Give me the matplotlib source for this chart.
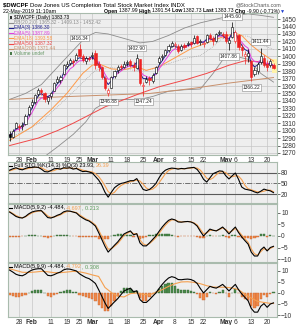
import matplotlib
matplotlib.use("Agg")
import matplotlib.pyplot as plt
import pandas as pd
from matplotlib.patches import Rectangle
from matplotlib.lines import Line2D

plt.rcParams['font.family'] = ['Liberation Sans', 'DejaVu Sans']

# trading days on the chart (Presidents Day and Good Friday closed)
days = [d for d in pd.bdate_range('2019-01-23', '2019-05-22')
        if d.strftime('%m-%d') not in ('02-18', '04-19')]
day_pos = {d.strftime('%Y-%m-%d'): i for i, d in enumerate(days)}

tick_dates = ['2019-01-28', '2019-02-01', '2019-02-11', '2019-02-19', '2019-02-25',
              '2019-03-01', '2019-03-11', '2019-03-18', '2019-03-25', '2019-04-01',
              '2019-04-08', '2019-04-15', '2019-04-22', '2019-05-01', '2019-05-06',
              '2019-05-13', '2019-05-20']
tick_labels = ['28', 'Feb', '11', '19', '25', 'Mar', '11', '18', '25', 'Apr',
               '8', '15', '22', 'May', '6', '13', '20']

opens = [1296, 1292, 1304, 1306, 1306, 1309, 1322, 1335, 1338, 1349,
         1355, 1350, 1340, 1346, 1354, 1366, 1368, 1376, 1387, 1391,
         1394, 1395, 1410, 1400, 1393, 1398, 1400, 1405, 1390, 1385,
         1371, 1350, 1358, 1373, 1381, 1387, 1386, 1391, 1393, 1388,
         1384, 1396, 1360, 1366, 1371, 1367, 1378, 1392, 1399, 1402,
         1408, 1414, 1415, 1414, 1408, 1415, 1416, 1419, 1418, 1427,
         1419, 1417, 1419, 1428, 1425, 1421, 1431, 1430, 1430, 1418,
         1426, 1420, 1428, 1412, 1400, 1401, 1393, 1376, 1380, 1392,
         1398, 1390, 1388, 1387.99]
highs = [1299, 1302, 1312, 1309, 1312, 1322, 1334, 1342, 1349, 1357,
         1358, 1352, 1347, 1352, 1366, 1373, 1375, 1390, 1393, 1398,
         1397, 1404, 1416.34, 1403, 1400, 1401, 1406, 1408, 1393, 1387,
         1373, 1358, 1373, 1382, 1388, 1390, 1393, 1395, 1396, 1392,
         1402.90, 1397, 1366, 1373, 1374, 1377, 1387, 1400, 1403, 1410,
         1416, 1420, 1419, 1416, 1416, 1418, 1421, 1421, 1428, 1429,
         1423, 1421, 1430, 1431, 1427, 1431, 1436, 1433, 1434, 1425,
         1445.60, 1436, 1430, 1416, 1407, 1410, 1395, 1386, 1392, 1411.44,
         1402, 1395, 1396, 1391.54]
lows = [1286, 1290, 1302, 1299, 1301, 1307, 1320, 1331, 1336, 1347,
        1348, 1338, 1336, 1343, 1353, 1364, 1364, 1375, 1384, 1388,
        1387, 1394, 1398, 1392, 1390, 1393, 1396, 1383, 1380, 1370,
        1355, 1346.88, 1357, 1371, 1378, 1381, 1384, 1387, 1385, 1380,
        1383, 1362, 1347.24, 1364, 1362, 1364, 1376, 1390, 1395, 1400,
        1406, 1412, 1411, 1405, 1407, 1410, 1414, 1413, 1417, 1416,
        1415, 1413, 1418, 1422, 1415, 1419, 1428, 1424, 1418, 1407.86,
        1425, 1418, 1408, 1400, 1390, 1392, 1366.22, 1374, 1376, 1390,
        1385, 1380, 1386, 1382.73]
closes = [1292, 1300, 1310, 1305, 1308, 1320, 1332, 1338, 1348, 1355,
          1352, 1343, 1345, 1350, 1364, 1370, 1372, 1388, 1390, 1395,
          1392, 1402, 1400, 1395, 1398, 1397, 1402, 1388, 1385, 1372,
          1358, 1355, 1372, 1380, 1386, 1385, 1390, 1392, 1388, 1385,
          1398, 1364, 1362, 1370, 1368, 1375, 1385, 1398, 1400, 1408,
          1414, 1418, 1416, 1407, 1414, 1413, 1418, 1416, 1424, 1418,
          1420, 1418, 1428, 1424, 1420, 1430, 1432, 1428, 1420, 1422,
          1440, 1432, 1412, 1408, 1403, 1405, 1372, 1382, 1390, 1400,
          1388, 1386, 1393.63, 1383.73]

ema3 = [1293, 1297, 1303, 1304, 1306, 1313, 1322, 1330, 1339, 1347,
        1350, 1346, 1346, 1348, 1356, 1363, 1367, 1378, 1384, 1389,
        1391, 1396, 1398, 1397, 1397, 1397, 1400, 1394, 1389, 1381,
        1369, 1362, 1367, 1374, 1380, 1382, 1386, 1389, 1388, 1387,
        1392, 1378, 1370, 1370, 1369, 1372, 1378, 1388, 1394, 1401,
        1408, 1413, 1414, 1411, 1412, 1413, 1415, 1416, 1420, 1419,
        1419, 1419, 1423, 1424, 1422, 1426, 1429, 1428, 1424, 1423,
        1432, 1432, 1422, 1415, 1409, 1407, 1390, 1386, 1388, 1394,
        1391, 1388, 1391, 1386.30]
ema5 = [1294, 1296, 1301, 1302, 1304, 1309, 1317, 1324, 1332, 1340,
        1344, 1344, 1344, 1346, 1352, 1358, 1363, 1371, 1377, 1383,
        1386, 1391, 1394, 1394, 1395, 1396, 1398, 1395, 1392, 1385,
        1376, 1369, 1370, 1373, 1377, 1380, 1383, 1386, 1387, 1386,
        1390, 1381, 1375, 1373, 1371, 1372, 1376, 1383, 1389, 1395,
        1401, 1407, 1410, 1409, 1411, 1412, 1414, 1415, 1418, 1418,
        1419, 1419, 1422, 1423, 1422, 1425, 1427, 1427, 1425, 1424,
        1429, 1430, 1424, 1419, 1414, 1411, 1398, 1393, 1392, 1395,
        1393, 1390, 1391, 1387.89]

ema18_at = [0, 7, 13, 18, 23, 26, 28, 32, 36, 40, 43, 47, 52, 57, 62, 67, 71, 73, 76, 79, 83]
ema18 = [1287, 1305, 1328, 1350, 1377, 1388, 1390, 1383, 1382, 1386, 1381,
         1386, 1398, 1410, 1418, 1426, 1431, 1428, 1415, 1405, 1393.58]
ema50_at = [0, 9, 15, 20, 30, 41, 47, 55, 62, 69, 74, 78, 83]
ema50 = [1280, 1290, 1300, 1310, 1332, 1350, 1359, 1368, 1377, 1388, 1394, 1393, 1387.32]
ema200_at = [0, 13, 44, 58, 69, 83]
ema200 = [1342, 1345, 1350, 1357, 1364, 1371.44]

bb_at = [0, 5, 10, 15, 20, 24, 27, 31, 36, 41, 45, 50, 55, 60, 64, 67, 71, 75, 79, 83]
bb_up = [1342, 1350, 1362, 1385, 1408, 1426, 1432, 1430, 1424, 1418,
         1420, 1428, 1438, 1445, 1449, 1452, 1455, 1457, 1455, 1452.42]
bb_mid = [1291, 1300, 1312, 1332, 1352, 1369, 1381, 1385, 1383, 1380,
          1383, 1390, 1397, 1401, 1413, 1424, 1428, 1427, 1416, 1409.13]
bb_low = [1240, 1250, 1262, 1278, 1295, 1312, 1330, 1340, 1342, 1342,
          1346, 1353, 1355, 1356, 1377, 1395, 1400, 1396, 1377, 1365.32]

sto_k = [88, 92, 95, 91, 89, 93, 96, 96, 97, 96, 91, 84, 83, 87, 92, 93, 91, 95, 94, 95,
         91, 93, 88, 84, 85, 83, 80, 70, 60, 45, 25, 11, 25, 38, 45, 50, 52, 55, 58, 58,
         64, 48, 33, 30, 33, 40, 50, 66, 80, 88, 92, 94, 93, 91, 93, 92, 94, 95, 96, 90,
         78, 62, 54, 66, 78, 82, 86, 85, 72, 63, 72, 80, 62, 40, 34, 32, 30, 26, 23, 28,
         34, 31, 29, 23.93]
sto_d = [86, 89, 92, 93, 92, 91, 93, 95, 96, 96, 95, 90, 86, 85, 87, 91, 92, 93, 93, 95,
         93, 93, 91, 88, 86, 84, 83, 78, 70, 58, 43, 27, 20, 25, 36, 44, 49, 52, 55, 57,
         60, 57, 48, 37, 32, 34, 41, 52, 65, 78, 87, 91, 93, 93, 92, 92, 93, 94, 95, 94,
         88, 77, 65, 61, 66, 75, 82, 84, 81, 73, 69, 72, 71, 61, 45, 35, 32, 29, 26, 26,
         28, 31, 31, 26.39]

macd = [10.4, 9.5, 8.5, 8.0, 7.8, 8.5, 9.6, 10.4, 10.8, 11.0,
        11.0, 9.5, 8.0, 7.8, 8.3, 9.0, 9.5, 10.5, 10.9, 10.8,
        10.4, 10.0, 8.7, 7.8, 7.0, 6.5, 5.5, 4.3, 1.5, -1.5,
        -4.5, -7.0, -5.5, -4.0, -2.6, -0.8, 0.9, 1.6, 2.2, 0.5,
        1.0, -3.0, -4.3, -4.3, -3.0, -1.5, 0.0, 2.0, 3.9, 5.5,
        6.8, 7.4, 7.0, 6.1, 6.0, 6.2, 6.3, 6.1, 5.5, 4.3,
        2.0, 0.0, 1.5, 3.0, 2.5, 2.2, 3.0, 3.9, 2.5, 0.9,
        2.5, 3.9, 1.5, -0.4, -2.0, -3.5, -7.0, -8.7, -8.7, -6.0,
        -4.8, -6.5, -5.0, -4.484]
signal_fast = [10.6, 9.8, 8.9, 8.3, 7.9, 8.3, 9.2, 10.0, 10.5, 10.8,
               10.9, 10.0, 8.7, 8.1, 8.2, 8.7, 9.2, 10.0, 10.6, 10.7,
               10.5, 10.2, 9.2, 8.3, 7.4, 6.8, 5.9, 4.8, 2.6, -0.2,
               -3.1, -5.7, -5.6, -4.5, -3.3, -1.6, 0.3, 1.2, 1.9, 1.0,
               1.0, -1.7, -3.4, -4.0, -3.3, -2.1, -0.7, 1.1, 3.0, 4.7,
               6.1, 7.0, 7.0, 6.4, 6.1, 6.2, 6.3, 6.2, 5.7, 4.8,
               2.9, 1.0, 1.3, 2.4, 2.5, 2.3, 2.8, 3.5, 2.8, 1.6,
               2.2, 3.3, 2.1, 0.4, -1.2, -2.7, -5.6, -7.7, -8.4, -6.8,
               -5.5, -6.2, -5.4, -4.697]
hist_fast = [-0.3, -0.3, -0.4, -0.3, -0.1, 0.2, 0.4, 0.4, 0.3, 0.2,
             0.1, -0.5, -0.7, -0.3, 0.1, 0.3, 0.3, 0.5, 0.3, 0.1,
             -0.1, -0.2, -0.5, -0.5, -0.4, -0.3, -0.4, -0.5, -1.1, -1.3,
             -1.4, -1.3, 0.1, 0.5, 0.7, 0.8, 0.6, 0.4, 0.3, -0.5,
             0.0, -1.3, -0.9, -0.3, 0.3, 0.6, 0.7, 0.9, 0.9, 0.8,
             0.7, 0.4, 0.0, -0.3, -0.1, 0.0, 0.0, -0.1, -0.2, -0.5,
             -0.9, -1.0, 0.2, 0.6, 0.0, -0.1, 0.2, 0.4, -0.3, -0.7,
             0.3, 0.6, -0.6, -0.8, -0.8, -0.8, -1.4, -1.0, -0.3, 0.8,
             0.7, -0.3, 0.4, 0.213]
signal_slow_at = [0, 2, 4, 6, 8, 10, 12, 14, 16, 18, 20, 22, 24, 26, 28, 30, 32, 34, 36, 38,
                  40, 42, 44, 46, 48, 50, 52, 54, 56, 58, 60, 62, 64, 66, 68, 70, 72, 74,
                  76, 78, 80, 82, 83]
signal_slow = [11.0, 10.2, 9.4, 9.3, 9.5, 9.8, 9.6, 9.2, 9.2, 9.5, 9.8, 9.6, 9.0, 8.2, 7.5,
               2.5, 0.2, -1.5, -1.8, -0.3, 0.0, -0.6, -0.9, 0.3, 1.5, 3.0, 4.2, 5.0, 5.1,
               4.8, 4.2, 3.3, 2.7, 2.6, 2.6, 2.3, 1.5, -0.5, -2.3, -3.8, -4.3, -4.7, -4.792]
hist_slow = [-1.0, -1.5, -1.8, -1.6, -1.4, -0.8, 0.2, 0.9, 1.3, 1.4,
             1.3, 0.1, -1.4, -1.6, -1.0, -0.4, 0.3, 1.0, 1.4, 1.2,
             0.6, 0.3, -0.9, -1.5, -2.0, -2.4, -2.7, -3.5, -5.3, -6.8,
             -8.0, -8.3, -6.0, -3.5, -1.2, 0.8, 2.2, 2.4, 2.0, 0.8,
             1.0, -2.5, -3.7, -3.6, -2.0, -0.6, 0.5, 1.8, 3.0, 4.0,
             4.3, 4.5, 3.2, 1.8, 1.3, 1.2, 1.2, 1.0, 0.4, -0.6,
             -2.2, -3.3, -1.8, 0.3, -0.2, -0.4, 0.3, 1.2, -0.2, -1.7,
             0.2, 1.6, -0.2, -1.9, -2.8, -3.4, -5.9, -7.0, -5.8, -2.7,
             -0.8, -2.0, -0.4, 0.308]

W, H = 300, 325
BG = '#eeeeee'
EDGE = '#a9bbad'
tick_x = [day_pos[d] for d in tick_dates]
n = len(closes)

fig = plt.figure(figsize=(3.0, 3.25), dpi=100)
fig.patch.set_facecolor('white')


def box(top, bottom, left=8, right=277):
    return [left / W, 1 - bottom / H, (right - left) / W, (bottom - top) / H]


def style(a, ylim, yticks, dates=False):
    a.set_facecolor(BG)
    for s in a.spines.values():
        s.set_color(EDGE)
        s.set_linewidth(0.8)
    a.set_xlim(-0.5, 84.1)
    a.set_ylim(*ylim)
    a.yaxis.tick_right()
    a.set_yticks(yticks)
    a.tick_params(axis='y', labelsize=4.8, length=2, width=0.5, pad=1,
                  colors='#333333')
    a.set_xticks(tick_x)
    a.grid(axis='x', color='#c6c6c6', lw=0.5)
    if dates:
        a.set_xticklabels(tick_labels)
        a.tick_params(axis='x', length=0, labelsize=4.8, pad=1.5, colors='#333333')
        for lab in a.get_xticklabels():
            if lab.get_text().isalpha():
                lab.set_fontweight('bold')
    else:
        a.tick_params(axis='x', length=0, labelbottom=False)
    a.set_axisbelow(True)


def chain(a, x, y, parts, size, trans):
    t = a.text(x, y, parts[0][0], color=parts[0][1], fontsize=size,
               fontweight=parts[0][2], transform=trans, va='center', ha='left')
    for s, c, w in parts[1:]:
        t = a.annotate(s, xy=(1, 0), xycoords=t, color=c, fontsize=size,
                       fontweight=w, va='bottom', ha='left')
    return t


# ---- price panel
ax = fig.add_axes(box(13, 155))
style(ax, (1267.3, 1458.2), range(1270, 1451, 10), dates=True)
ax.grid(axis='y', color='#c6c6c6', lw=0.5)

# highlight behind the latest bars
ax.add_patch(Rectangle((82.5, 1378), 1.6, 18, facecolor='#fff3a8', edgecolor='none', zorder=1))

ax.plot(bb_at, bb_up, color='#8c8c8c', lw=0.6, zorder=2)
ax.plot(bb_at, bb_low, color='#8c8c8c', lw=0.6, zorder=2)
ax.plot(bb_at, bb_mid, color='#9a9a9a', lw=0.5, ls=':', zorder=2)
ax.plot(ema200_at, ema200, color='#c8906c', lw=0.7, zorder=2)
ax.plot(ema50_at, ema50, color='#f04848', lw=0.7, zorder=2)
ax.plot(ema18_at, ema18, color='#ff9a48', lw=0.7, zorder=2)
ax.plot(range(n), ema5, color='#e040e0', lw=0.7, zorder=3)
ax.plot(range(n), ema3, color='#20208c', lw=0.7, zorder=3)

for i in range(n):
    col = '#ee2222' if i > 0 and closes[i] < closes[i - 1] else 'black'
    ax.vlines(i, lows[i], highs[i], color=col, lw=0.5, zorder=4)
    b0 = min(opens[i], closes[i])
    h = max(abs(closes[i] - opens[i]), 0.4)
    face = col if closes[i] < opens[i] else 'white'
    ax.add_patch(Rectangle((i - 0.34, b0), 0.68, h, facecolor=face,
                           edgecolor=col, lw=0.4, zorder=5))

for d, v, up in [(22, 1416.34, True), (40, 1402.90, True), (31, 1346.88, False),
                 (42, 1347.24, False), (70, 1445.60, True), (69, 1407.86, False),
                 (79, 1411.44, True), (76, 1366.22, False)]:
    ax.annotate(f'{v:.2f}', (d, v), xytext=(0, 2.5 if up else -2.5),
                textcoords='offset points', ha='center',
                va='bottom' if up else 'top', fontsize=3.5, color='#222222',
                bbox=dict(boxstyle='square,pad=0.15', fc='white', ec='#888888', lw=0.4),
                zorder=7)

legend = [('$DWCPF (Daily) 1383.73', 'black', 'candle'),
          ('BB(20,2.0) 1365.32 - 1409.13 - 1452.42', '#8c8c8c', '#8c8c8c'),
          ('EMA(3) 1386.30', '#20208c', '#20208c'),
          ('EMA(5) 1387.89', '#e040e0', '#e040e0'),
          ('EMA(18) 1393.58', '#ff9a48', '#ff9a48'),
          ('EMA(50) 1387.32', '#f04848', '#f04848'),
          ('EMA(200) 1371.44', '#c8906c', '#c8906c'),
          ('Volume undef', '#6a9a6a', 'bar')]
for k, (txt, tc, hc) in enumerate(legend):
    yy = 17.5 + k * 5.2
    if hc == 'candle' or hc == 'bar':
        fig.patches.append(Rectangle((9.5 / W, 1 - (yy + 1.5) / H), 2.5 / W, 3 / H,
                                     transform=fig.transFigure,
                                     fc='#333333' if hc == 'candle' else '#4a7a4a',
                                     ec='none', zorder=8))
    else:
        fig.lines.append(Line2D([9 / W, 12.5 / W], [1 - yy / H, 1 - yy / H],
                                transform=fig.transFigure, color=hc, lw=0.8, zorder=8))
    fig.text(13.5 / W, 1 - yy / H, txt, color=tc, fontsize=3.5, va='center', ha='left')

# ---- stochastics
ax2 = fig.add_axes(box(162, 203))
style(ax2, (-5.7, 111.4), [20, 50, 80])
for lv, ls in [(80, '-'), (50, '-.'), (20, '-')]:
    ax2.axhline(lv, color='#5a5a5a', lw=0.8 if ls == '-' else 0.6, ls=ls, zorder=2)
ax2.plot(range(n), sto_d, color='#f5a050', lw=0.8, zorder=3)
ax2.plot(range(n), sto_k, color='black', lw=0.8, zorder=4)
fig.lines.append(Line2D([9 / W, 12 / W], [1 - 165.5 / H] * 2, transform=fig.transFigure,
                        color='black', lw=0.8))
chain(ax2, 13.5 / W, 1 - 165.5 / H,
      [('Full STO %K(14,3) %D(3) 23.93, ', 'black', 'normal'),
       ('26.39', '#f5a050', 'normal')], 4.0, fig.transFigure)

# ---- MACD with fast signal
ax3 = fig.add_axes(box(204, 262))
style(ax3, (-11.3, 13.9), [-10, -5, 0, 5, 10])
ax3.bar(range(n), hist_fast, width=0.7,
        color=['#4a8a4a' if v > 0 else '#f08848' for v in hist_fast],
        edgecolor=['#3a6a3a' if v > 0 else '#c86430' for v in hist_fast],
        lw=0.3, zorder=2)
ax3.plot(range(n), signal_fast, color='#f5a050', lw=0.8, zorder=3)
ax3.plot(range(n), macd, color='black', lw=0.8, zorder=4)
fig.lines.append(Line2D([9 / W, 12 / W], [1 - 208 / H] * 2, transform=fig.transFigure,
                        color='black', lw=0.8))
chain(ax3, 13.5 / W, 1 - 208 / H,
      [('MACD(5,9,2) -4.484, ', 'black', 'normal'),
       ('-4.697', '#f5a050', 'normal'),
       (', 0.213', '#5a9a5a', 'normal')], 4.0, fig.transFigure)

# ---- MACD with slow signal
ax4 = fig.add_axes(box(263, 317))
style(ax4, (-10.9, 13.6), [-10, -5, 0, 5, 10], dates=True)
ax4.bar(range(n), hist_slow, width=0.7,
        color=['#4a8a4a' if v > 0 else '#f08848' for v in hist_slow],
        edgecolor=['#3a6a3a' if v > 0 else '#c86430' for v in hist_slow],
        lw=0.3, zorder=2)
ax4.plot(signal_slow_at, signal_slow, color='#f5a050', lw=0.8, zorder=3)
ax4.plot(range(n), macd, color='black', lw=0.8, zorder=4)
fig.lines.append(Line2D([9 / W, 12 / W], [1 - 266.5 / H] * 2, transform=fig.transFigure,
                        color='black', lw=0.8))
chain(ax4, 13.5 / W, 1 - 266.5 / H,
      [('MACD(5,9,9) -4.484, ', 'black', 'normal'),
       ('-4.792', '#f5a050', 'normal'),
       (', 0.308', '#5a9a5a', 'normal')], 4.0, fig.transFigure)

# ---- header
chain(ax, 3 / W, 1 - 5 / H,
      [('$DWCPF ', 'black', 'bold'),
       ('Dow Jones US Completion Total Stock Market Index INDX', 'black', 'normal')],
      4.3, fig.transFigure)
fig.text(258 / W, 1 - 4.5 / H, '@StockCharts.com', fontsize=3.8, color='#555555',
         ha='center', va='center')
fig.text(3 / W, 1 - 11 / H, '22-May-2019 11:10am', fontsize=3.8, color='black',
         va='center')
chain(ax, 104 / W, 1 - 11 / H,
      [('Open ', 'black', 'bold'), ('1387.99 ', 'black', 'normal'),
       ('High ', 'black', 'bold'), ('1391.54 ', 'black', 'normal'),
       ('Low ', 'black', 'bold'), ('1382.73 ', 'black', 'normal'),
       ('Last ', 'black', 'bold'), ('1383.73 ', 'black', 'normal'),
       ('Chg ', 'black', 'bold'), ('-9.90 (-0.71%)', 'black', 'normal'),
       ('\u25bc', '#2040d0', 'normal')], 3.7, fig.transFigure)

fig.savefig('out.png', dpi=100, facecolor='white')
